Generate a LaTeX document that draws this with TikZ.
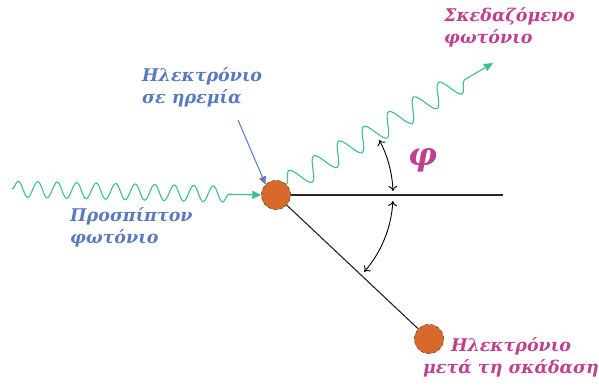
\documentclass[tikz,border=0pt]{standalone}
\usepackage{fontspec}
\setmainfont{DejaVu Serif}
\usetikzlibrary{decorations.pathmorphing,arrows.meta}
\definecolor{wavegreen}{HTML}{3DBF8E}
\definecolor{eorange}{HTML}{D9692A}
\definecolor{lblblue}{HTML}{5A7AC0}
\definecolor{lblmag}{HTML}{C0408F}
\tikzset{
  electron/.style={circle,draw=black!70,dashed,fill=eorange,minimum size=29pt,inner sep=0pt},
  photon/.style={draw=wavegreen,line width=1.1pt,decorate,
    -{Triangle[length=9pt,width=8pt,fill=wavegreen]}},
  lbl/.style={font=\fontsize{17.5}{22}\selectfont\bfseries\itshape,align=left,inner sep=0pt},
  anglearc/.style={draw=black,line width=0.9pt,{To[length=5pt,width=9pt]}-{To[length=5pt,width=9pt]}},
  plainline/.style={draw=black!85,line width=1.1pt}
}
\begin{document}
\begin{tikzpicture}[x=1pt,y=-1pt]
\useasboundingbox (0,0) rectangle (599,389);
\node[electron] (e1) at (276,195) {};
\node[electron] (e2) at (429,339) {};
\coordinate (inStart) at (12,189);
\coordinate (hEnd) at (503,195);
\coordinate (scEnd) at (493,63);
% lines
\draw[plainline] (e1.east) -- (hEnd);
\draw[plainline] (e1) -- (e2);
\node[electron] at (e1) {};
\node[electron] at (e2) {};
% photons
\draw[photon,decoration={snake,segment length=19.5pt,amplitude=8pt,post length=30pt}] (inStart) -- (e1.west);
\draw[photon,decoration={snake,segment length=29pt,amplitude=11pt,post length=22pt}] (e1.north east) -- (scEnd);
% angle arcs
\draw[anglearc] (e1.center) ++(-28:117) arc[start angle=-28,end angle=-2,radius=117];
\draw[anglearc] (e1.center) ++(3:117) arc[start angle=3,end angle=41,radius=117];
\node[text=lblmag,font=\fontsize{32}{32}\selectfont\bfseries\itshape] (phi) at (423,160) {φ};
% labels
\node[lbl,text=lblblue,anchor=north west] (restlbl) at (142,67) {Ηλεκτρόνιο\\σε ηρεμία};
\coordinate (bArrStart) at (238,120);
\draw[draw=lblblue,line width=1pt,-{Triangle[length=8pt,width=7pt]}] (bArrStart) -- (e1.north west);
\node[lbl,text=lblblue,anchor=north west] (inlbl) at (70,207) {Προσπίπτον\\φωτόνιο};
\node[lbl,text=lblmag,anchor=north west] (sclbl) at (444,7) {Σκεδαζόμενο\\φωτόνιο};
\node[lbl,text=lblmag,align=center,anchor=north east] (reclbl) at (599,337) {Ηλεκτρόνιο\\μετά τη σκάδαση};
\end{tikzpicture}
\end{document}
